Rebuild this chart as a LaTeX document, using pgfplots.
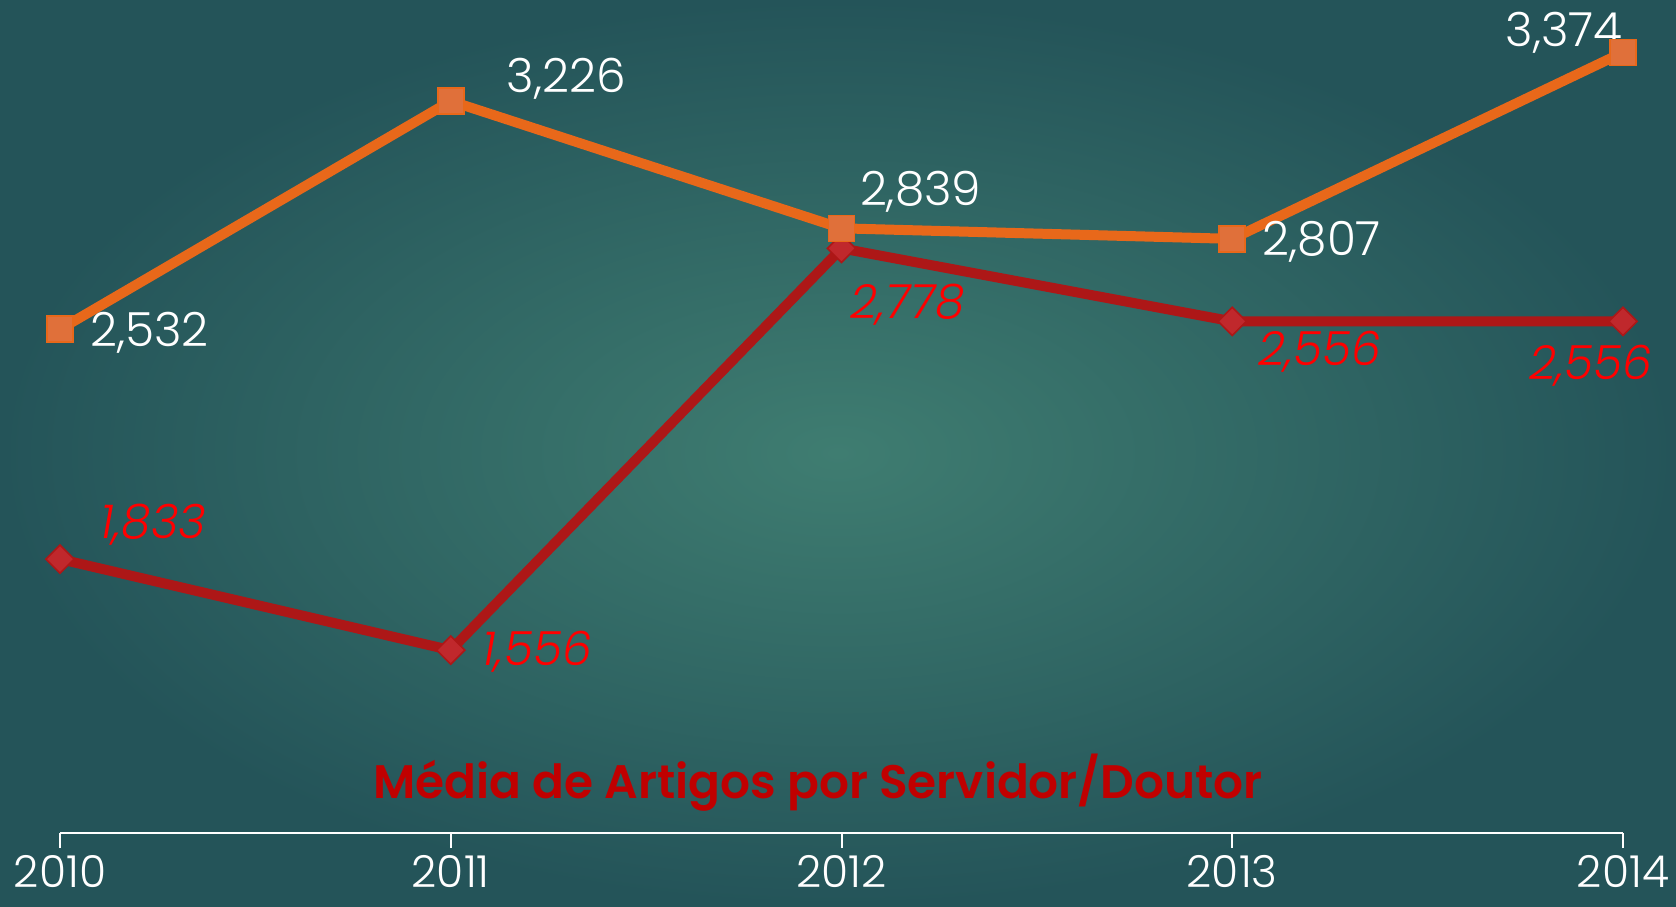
\documentclass[border=0pt]{standalone}
\usepackage{fontspec}
\setmainfont{Poppins}[UprightFont=*-Light, ItalicFont=*-LightItalic, BoldFont=*-SemiBold]
\usepackage{pgfplots}
\pgfplotsset{compat=1.18}
\definecolor{bginner}{HTML}{3F7D71}
\definecolor{bgouter}{HTML}{245459}
\definecolor{oline}{HTML}{E8681A}
\definecolor{ofill}{HTML}{E0703A}
\definecolor{rline}{HTML}{AD1717}
\definecolor{rfill}{HTML}{C0282C}
\definecolor{rtext}{HTML}{FF0000}
\definecolor{ttl}{HTML}{C00000}
\begin{document}
\begin{tikzpicture}[x=1pt,y=1pt]
\shade[inner color=bginner, outer color=bgouter] (0,0) rectangle (838,453);
\begin{axis}[
  at={(30pt,36.5pt)}, anchor=south west,
  scale only axis, width=781.5pt, height=411pt,
  xmin=2010, xmax=2014, ymin=1, ymax=3.5,
  clip=false,
  axis x line=bottom, hide y axis,
  axis line style={white, line width=1pt, -},
  xtick={2010,2011,2012,2013,2014},
  xticklabels={2010,2011,2012,2013,2014},
  tick align=outside, major tick length=7.5pt,
  tick style={white, line width=1pt},
  xticklabel style={text=white, font=\fontsize{22}{26}\selectfont},
  minor tick num=0,
]
\addplot[rline, line width=5pt, mark=square*, mark size=5pt,
  mark options={fill=rfill, draw=rline, line width=0.8pt, rotate=45}]
  coordinates {(2010,1.833) (2011,1.556) (2012,2.778) (2013,2.556) (2014,2.556)};
\addplot[oline, line width=5pt, mark=square*, mark size=6.5pt,
  mark options={fill=ofill, draw=oline, line width=0.8pt}]
  coordinates {(2010,2.532) (2011,3.226) (2012,2.839) (2013,2.807) (2014,3.374)};
\begin{scope}[every node/.style={inner sep=0pt, font=\fontsize{23.5}{28}\selectfont}]
\node[white, anchor=west, xshift=15pt, yshift=-1.5pt] at (axis cs:2010,2.532) {2,532};
\node[white, anchor=west, xshift=27.8pt, yshift=11.2pt] at (axis cs:2011,3.226) {3,226};
\node[white, anchor=west, xshift=9.1pt, yshift=18.2pt] at (axis cs:2012,2.839) {2,839};
\node[white, anchor=west, xshift=15pt, yshift=-1.6pt] at (axis cs:2013,2.807) {2,807};
\node[white, anchor=east, xshift=0pt, yshift=9.6pt] at (axis cs:2014,3.374) {3,374};
\node[rtext, anchor=west, xshift=19.8pt, yshift=17.1pt] at (axis cs:2010,1.833) {\itshape 1,833};
\node[rtext, anchor=west, xshift=15.5pt, yshift=-1pt] at (axis cs:2011,1.556) {\itshape 1,556};
\node[rtext, anchor=west, xshift=4.3pt, yshift=-28.3pt] at (axis cs:2012,2.778) {\itshape 2,778};
\node[rtext, anchor=west, xshift=12.8pt, yshift=-15pt] at (axis cs:2013,2.556) {\itshape 2,556};
\node[rtext, anchor=center, xshift=-16pt, yshift=-22.4pt] at (axis cs:2014,2.556) {\itshape 2,556};
\end{scope}
\node[ttl, font=\fontsize{23.5}{28}\selectfont\bfseries] at (axis cs:2011.94,1.152) {Média de Artigos por Servidor/Doutor};
\end{axis}
\end{tikzpicture}
\end{document}
